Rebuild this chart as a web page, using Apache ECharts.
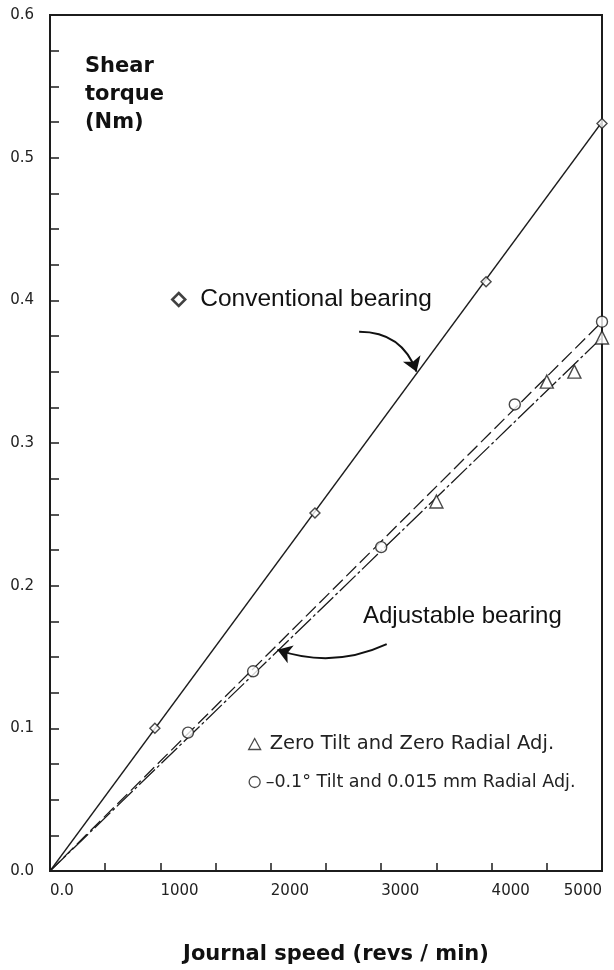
<!DOCTYPE html>
<html>
<head>
<meta charset="utf-8">
<script src="https://cdn.jsdelivr.net/npm/echarts@6/dist/echarts.min.js"></script>
<style>
  html, body { margin: 0; padding: 0; background: #fff; }
</style>
</head>
<body>
<div id="torqueChart" style="width: 614px;height:970px;"></div>

<script>

// measured points (journal speed in rev/min, shear torque in Nm)
var convSpeed  = [950, 2400, 3950, 5000];
var convTorque = [0.100, 0.251, 0.413, 0.524];

var zeroSpeed  = [3500, 4500, 4750, 5000];
var zeroTorque = [0.259, 0.343, 0.350, 0.374];

var tiltSpeed  = [1250, 1840, 3000, 4210, 5000];
var tiltTorque = [0.097, 0.140, 0.227, 0.327, 0.385];

// fitted lines, start and end
var convFitSpeed  = [0, 5000];
var convFitTorque = [0, 0.525];
var tiltFitSpeed  = [0, 5000];
var tiltFitTorque = [0, 0.385];
var zeroFitSpeed  = [0, 5000];
var zeroFitTorque = [0, 0.374];

// annotation arrows: [start speed, start torque, end speed, end torque]
var convArrow = [2800, 0.378, 3320, 0.350];
var adjArrow  = [3050, 0.159, 2060, 0.155];

var convName = 'Conventional bearing';
var zeroName = 'Zero Tilt and Zero Radial Adj.';
var tiltName = '\u20130.1\u00b0 Tilt and 0.015 mm Radial Adj.';

function pairs(xs, ys) {
	return xs.map(function (x, i) {
		return [x, ys[i]];
	});
}

var ink = '#1c1c1c';
var hollow = { color: '#fff', borderColor: ink, borderWidth: 1.4 };

var torqueChart = echarts.init(document.getElementById('torqueChart'));

torqueChart.setOption({
	animation: false,
	backgroundColor: '#fff',
	title: [{
		text: 'Shear\ntorque\n(Nm)',
		left: 85,
		top: 53,
		padding: 0,
		textStyle: {
			fontFamily: 'DejaVu Sans',
			fontWeight: 'bold',
			fontSize: 21,
			lineHeight: 28,
			color: '#111'
		}
	}, {
		text: 'Adjustable bearing',
		left: 363,
		top: 604,
		padding: 0,
		textStyle: {
			fontFamily: 'Liberation Sans',
			fontWeight: 'normal',
			fontSize: 24,
			color: '#111'
		}
	}],
	legend: [{
		data: [{
			name: convName,
			icon: 'diamond',
			itemStyle: { color: '#fff', borderColor: '#111', borderWidth: 2.5 }
		}],
		left: 166,
		top: 282,
		itemWidth: 13,
		itemHeight: 13,
		selectedMode: false,
		textStyle: {
			fontFamily: 'Liberation Sans',
			fontSize: 24.5,
			color: '#111',
			padding: [0, 0, 0, 10]
		}
	}, {
		data: [{
			name: zeroName,
			icon: 'triangle',
			itemStyle: { color: '#fff', borderColor: ink, borderWidth: 1.3 },
			textStyle: { fontSize: 19.5, padding: [0, 0, 0, 4] }
		}, {
			name: tiltName,
			icon: 'circle',
			itemStyle: { color: '#fff', borderColor: ink, borderWidth: 1.3 },
			textStyle: { fontSize: 17.5, padding: [0, 0, 0, 0] }
		}],
		orient: 'vertical',
		left: 243,
		top: 729,
		itemGap: 19,
		itemWidth: 12,
		itemHeight: 11,
		selectedMode: false,
		textStyle: {
			fontFamily: 'DejaVu Sans',
			fontSize: 18.5,
			color: '#222'
		}
	}],
	grid: {
		left: 50,
		right: 12,
		top: 15,
		bottom: 92,
		show: true,
		borderColor: ink,
		borderWidth: 2,
		backgroundColor: 'transparent'
	},
	xAxis: {
		type: 'value',
		min: 0,
		max: 5000,
		interval: 1000,
		name: 'Journal speed (revs / min)',
		nameLocation: 'middle',
		nameGap: 73,
		nameTextStyle: {
			fontFamily: 'DejaVu Sans',
			fontWeight: 'bold',
			fontSize: 21,
			color: '#111',
			padding: [0, 0, 0, 20]
		},
		axisLine: { lineStyle: { color: ink, width: 2 } },
		axisTick: { inside: true, length: 8, lineStyle: { color: ink, width: 1.5 } },
		minorTick: { show: true, splitNumber: 2, length: 8, lineStyle: { color: ink, width: 1.5 } },
		splitLine: { show: false },
		axisLabel: {
			align: 'left',
			alignMaxLabel: 'right',
			margin: 13,
			fontFamily: 'DejaVu Sans',
			fontSize: 15,
			color: '#222',
			formatter: function (v) {
				return v === 0 ? '0.0' : String(v);
			}
		}
	},
	yAxis: {
		type: 'value',
		min: 0,
		max: 0.6,
		interval: 0.1,
		axisLine: { show: true, lineStyle: { color: ink, width: 2 } },
		axisTick: { show: true, inside: true, length: 9, lineStyle: { color: ink, width: 1.5 } },
		minorTick: { show: true, splitNumber: 4, length: 9, lineStyle: { color: ink, width: 1.5 } },
		splitLine: { show: false },
		axisLabel: {
			margin: 16,
			fontFamily: 'DejaVu Sans',
			fontSize: 15,
			color: '#222',
			formatter: function (v) {
				return v.toFixed(1);
			}
		}
	},
	series: [{
		name: 'conv fit',
		type: 'line',
		data: pairs(convFitSpeed, convFitTorque),
		symbol: 'none',
		lineStyle: { color: ink, width: 1.3 },
		z: 1
	}, {
		name: 'tilt fit',
		type: 'line',
		data: pairs(tiltFitSpeed, tiltFitTorque),
		symbol: 'none',
		lineStyle: { color: ink, width: 1.3, type: [14, 5] },
		z: 1
	}, {
		name: 'zero fit',
		type: 'line',
		data: pairs(zeroFitSpeed, zeroFitTorque),
		symbol: 'none',
		lineStyle: { color: ink, width: 1.3, type: [22, 3, 3, 3] },
		z: 1
	}, {
		name: convName,
		type: 'scatter',
		data: pairs(convSpeed, convTorque),
		symbol: 'diamond',
		symbolSize: 10,
		itemStyle: hollow,
		z: 3
	}, {
		name: zeroName,
		type: 'scatter',
		data: pairs(zeroSpeed, zeroTorque),
		symbol: 'triangle',
		symbolSize: 13,
		itemStyle: hollow,
		z: 3
	}, {
		name: tiltName,
		type: 'scatter',
		data: pairs(tiltSpeed, tiltTorque),
		symbol: 'circle',
		symbolSize: 11,
		itemStyle: hollow,
		z: 3
	}, {
		name: 'arrows',
		type: 'lines',
		coordinateSystem: 'cartesian2d',
		symbol: ['none', 'arrow'],
		symbolSize: 14,
		lineStyle: { color: '#111', width: 2, opacity: 1 },
		data: [{
			coords: [[convArrow[0], convArrow[1]], [convArrow[2], convArrow[3]]],
			lineStyle: { curveness: 0.35 }
		}, {
			coords: [[adjArrow[0], adjArrow[1]], [adjArrow[2], adjArrow[3]]],
			lineStyle: { curveness: 0.2 }
		}],
		z: 4
	}]
});

</script>
</body>
</html>
